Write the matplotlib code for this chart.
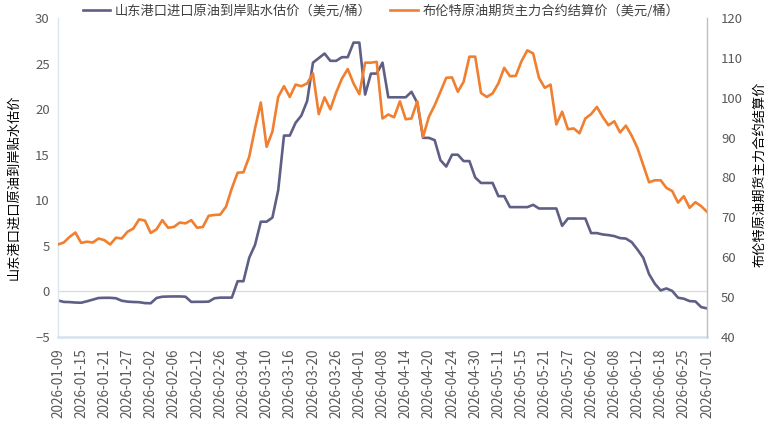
import numpy as np
import pandas as pd
import matplotlib
matplotlib.use('Agg')
import matplotlib.pyplot as plt

plt.rcParams['font.family'] = ['Noto Sans CJK SC', 'DejaVu Sans']

# trading days (weekdays minus exchange holidays)
holidays = ['2026-02-16', '2026-02-17', '2026-02-18', '2026-02-19', '2026-02-20',
            '2026-02-23', '2026-04-06', '2026-05-01', '2026-05-04', '2026-05-05',
            '2026-06-19']
dates = pd.bdate_range('2026-01-09', '2026-07-01')
dates = dates[~dates.isin(pd.to_datetime(holidays))]
labels = list(dates.strftime('%Y-%m-%d'))

name1 = '山东港口进口原油到岸贴水估价（美元/桶）'
name2 = '布伦特原油期货主力合约结算价（美元/桶）'
ylabel1 = '山东港口进口原油到岸贴水估价'
ylabel2 = '布伦特原油期货主力合约结算价'

discount = [-0.99, -1.15, -1.17, -1.22, -1.24, -1.08, -0.9, -0.72, -0.7, -0.7,
            -0.75, -1.02, -1.12, -1.16, -1.18, -1.28, -1.3, -0.72, -0.58, -0.56,
            -0.55, -0.55, -0.58, -1.15, -1.14, -1.14, -1.12, -0.75, -0.68, -0.68,
            -0.68, 1.12, 1.12, 3.7, 5.1, 7.65, 7.65, 8.1, 11.1, 17.1,
            17.1, 18.5, 19.3, 20.9, 25.1, 25.6, 26.1, 25.3, 25.3, 25.7,
            25.7, 27.3, 27.3, 21.6, 23.9, 23.9, 25.1, 21.3, 21.3, 21.3,
            21.3, 21.9, 20.7, 16.85, 16.85, 16.6, 14.4, 13.7, 15.0, 15.0,
            14.3, 14.3, 12.5, 11.9, 11.9, 11.9, 10.45, 10.45, 9.25, 9.25,
            9.25, 9.25, 9.5, 9.1, 9.1, 9.1, 9.1, 7.2, 8.0, 8.0,
            8.0, 8.0, 6.4, 6.4, 6.25, 6.18, 6.07, 5.85, 5.8, 5.41,
            4.6, 3.69, 1.9, 0.84, 0.11, 0.33, 0.05, -0.69, -0.8, -1.06,
            -1.1, -1.72, -1.86]

brent = [63.2, 63.7, 65.1, 66.2, 63.6, 63.9, 63.7, 64.7, 64.3, 63.2,
         64.9, 64.7, 66.4, 67.2, 69.5, 69.2, 66.1, 67.0, 69.3, 67.4,
         67.6, 68.7, 68.5, 69.3, 67.4, 67.6, 70.4, 70.6, 70.7, 72.7,
         77.3, 81.2, 81.3, 85.2, 92.3, 98.8, 87.7, 91.5, 100.2, 102.9,
         100.2, 103.3, 102.9, 103.6, 106.1, 95.9, 100.1, 97.1, 101.3, 104.8,
         107.2, 103.6, 100.9, 108.8, 108.8, 109.0, 94.8, 95.8, 95.1, 99.1,
         94.6, 94.8, 99.1, 90.2, 95.2, 98.1, 101.5, 105.0, 105.1, 101.5,
         104.0, 110.3, 110.3, 101.2, 100.2, 101.1, 103.6, 107.5, 105.4, 105.5,
         109.2, 111.9, 111.1, 105.0, 102.5, 103.3, 93.3, 96.5, 92.1, 92.3,
         91.1, 94.8, 95.9, 97.7, 95.2, 93.1, 94.1, 91.3, 93.0, 90.5,
         87.4, 83.1, 78.8, 79.3, 79.3, 77.4, 76.6, 73.7, 75.3, 72.4,
         73.8, 72.8, 71.4]

assert len(labels) == len(discount) == len(brent), (len(labels), len(discount), len(brent))

x = np.arange(len(labels))

fig = plt.figure(figsize=(7.7, 4.42), dpi=100)
ax = fig.add_axes([58 / 770, 1 - 337 / 442, 649 / 770, 319 / 442])
ax2 = ax.twinx()

l1, = ax.plot(x, discount, color='#5f5f86', lw=1.9, label=name1)
l2, = ax2.plot(x, brent, color='#f07f2f', lw=1.9, label=name2)

ax.axhline(0, color='#d9d9d9', lw=0.9, zorder=0)

ax.set_xlim(0, len(x) - 1)
ax.set_ylim(-5, 30)
ax.set_yticks(range(-5, 31, 5))
ax2.set_ylim(40, 120)
ax2.set_yticks(range(40, 121, 10))

ax.set_xticks(x[::4])
ax.set_xticklabels(labels[::4], rotation=90)

ax.tick_params(axis='x', length=0, pad=8, labelsize=9.8, labelcolor='#595959')
ax.tick_params(axis='y', length=0, pad=6, labelsize=9.5, labelcolor='#595959')
ax2.tick_params(axis='y', length=0, pad=10, labelsize=9.5, labelcolor='#595959')

for s in ['top', 'right']:
    ax.spines[s].set_visible(False)
for s in ['top', 'bottom', 'left']:
    ax2.spines[s].set_visible(False)
ax.spines['bottom'].set_color('#d6e2ef')
ax.spines['bottom'].set_linewidth(1.8)
ax.spines['left'].set_color('#dde5ee')
ax.spines['left'].set_linewidth(1.0)
ax2.spines['right'].set_color('#bfbfbf')
ax2.spines['right'].set_linewidth(1.0)

ax.set_ylabel(ylabel1, fontsize=9.5, color='black', va='center')
ax.yaxis.set_label_coords((14 - 58) / 649, 0.47)
ax2.set_ylabel(ylabel2, fontsize=9.5, color='black', va='center', rotation=90)
ax2.yaxis.set_label_coords((760 - 58) / 649, 0.51)

fig.legend(handles=[l1, l2], loc='center', bbox_to_anchor=(0.495, 1 - 11 / 442),
           ncol=2, frameon=False, fontsize=9.5, handlelength=2.1,
           handletextpad=0.35, columnspacing=1.4, labelcolor='#404040',
           borderaxespad=0)

fig.savefig('out.png', dpi=100)
